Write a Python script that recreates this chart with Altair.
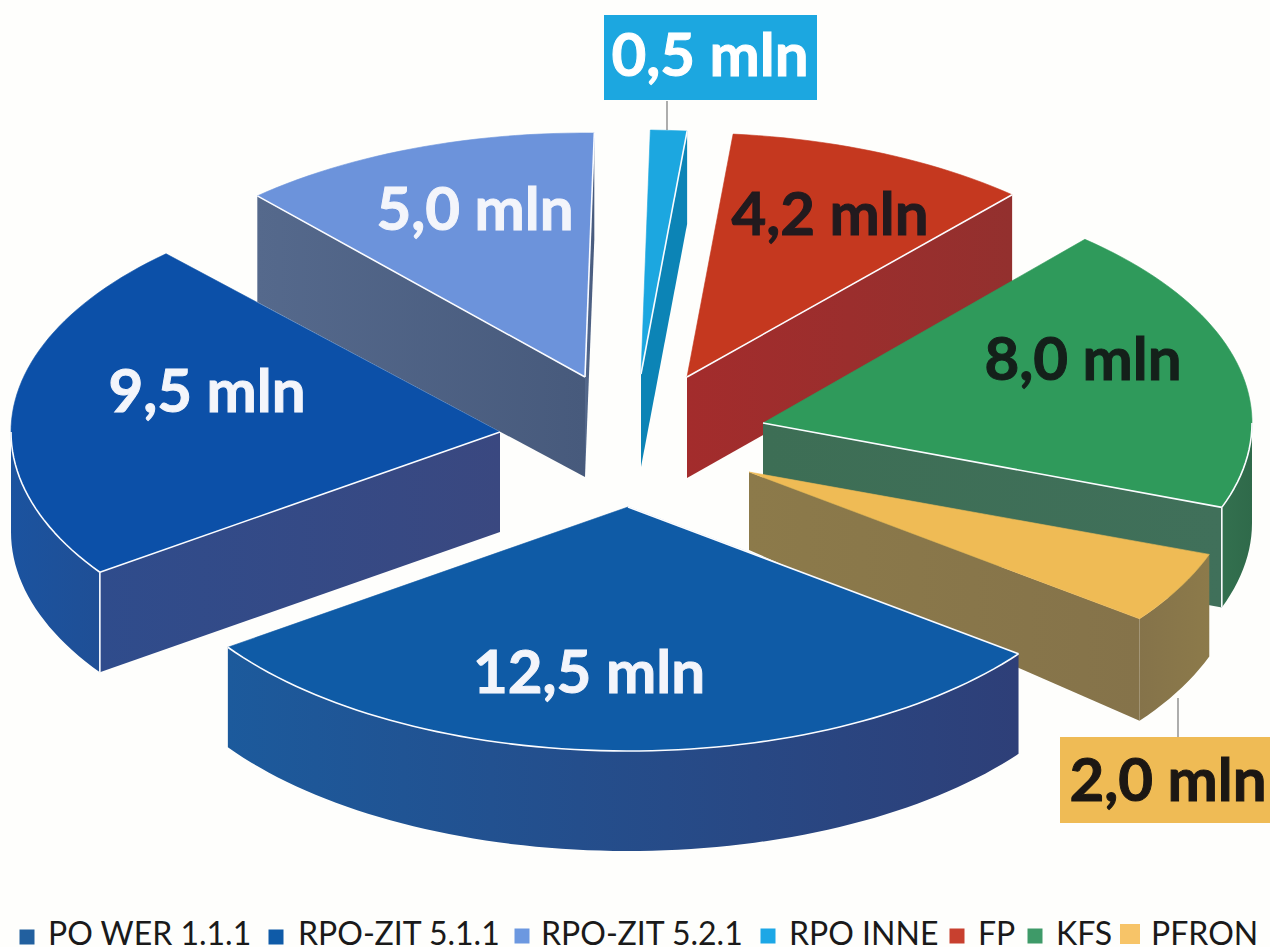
import math

import altair as alt
import pandas as pd

# Funding sources and their amounts in million
sources = ["PO WER 1.1.1", "RPO-ZIT 5.1.1", "RPO-ZIT 5.2.1", "RPO INNE", "FP", "KFS", "PFRON"]
amounts = [12.5, 9.5, 5.0, 0.5, 4.2, 8.0, 2.0]
amount_labels = ["12,5 mln", "9,5 mln", "5,0 mln", "0,5 mln", "4,2 mln", "8,0 mln", "2,0 mln"]

top_colors = ["#0F5BA6", "#0C50A8", "#6C93DB", "#1CA7E0", "#C5381F", "#2F9A5B", "#EFBB55"]
wall_start = ["#24528F", "#2F4C8C", "#55698C", "#0C84B6", "#A32C2C", "#3D6E55", "#8C7A4A"]
wall_end = ["#24528F", "#3A4880", "#475A7C", "#0C84B6", "#93302E", "#40705A", "#85734A"]
arc_start = ["#1C5A9C", "#1B539F", "#4E6488", "#0C84B6", "#A32C2C", "#33704F", "#85734A"]
arc_end = ["#2E3F78", "#1F4F96", "#4E6488", "#0C84B6", "#A32C2C", "#2F6A4A", "#8C7A4A"]
text_colors = ["#F3F5FB", "#F3F5FB", "#F3F5FB", "#FFFFFF", "#221A1E", "#14201A", "#1C1713"]
legend_colors = ["#22609F", "#0F5BA8", "#6C98E0", "#1CA7E6", "#C8402F", "#3E9A68", "#F7C468"]

# Layout of the exploded pie on a 1270x947 canvas
RX, RY = 489, 244
START_ANGLE = 127
tips = [(628, 507), (500, 432), (585, 377), (641, 374), (687, 377), (763, 423), (749, 472)]
angle_nudge = [0, 0, 1, 1, 1, 0.5, 0]
depth_tip = [100, 100, 100, 93, 101, 100, 78]
depth_rim = [100, 100, 106, 93, 100, 100, 102]
paint_order = [2, 3, 4, 1, 5, 6, 0]
label_pos = [(589, 675), (207, 394), (475, 212), (710, 58), (830, 217), (1083, 362), (1168, 783)]
legend_box_x = [27, 276, 522, 768, 957, 1035, 1130]
legend_box_y = [937, 937, 936, 936, 936, 936, 934]
legend_box_size = [225, 225, 225, 225, 225, 225, 400]
legend_text_x = [48, 298, 541, 789, 978, 1056, 1151]

x_scale = alt.Scale(domain=[0, 1270], range=[0, 1270], nice=False, zero=False)
y_scale = alt.Scale(domain=[0, 947], range=[0, 947], nice=False, zero=False)
X = alt.X("x:Q", scale=x_scale, axis=None)
Y = alt.Y("y:Q", scale=y_scale, axis=None)


def path(points):
    frame = pd.DataFrame(points, columns=["x", "y"])
    frame["i"] = range(len(frame))
    return frame


def shade(left, right):
    return alt.LinearGradient(
        gradient="linear", x1=0, x2=1, y1=0, y2=0,
        stops=[alt.GradientStop(color=left, offset=0), alt.GradientStop(color=right, offset=1)],
    )


def polygon(points, fill, stroke=None):
    closed = list(points) + [points[0]]
    return alt.Chart(path(closed)).mark_line(
        fill=fill, stroke=stroke or "transparent", strokeWidth=0.6, strokeJoin="round"
    ).encode(x=X, y=Y, order="i:Q")


def edge(points):
    return alt.Chart(path(points)).mark_line(
        stroke="#FBFCFF", strokeWidth=1.6, strokeJoin="round"
    ).encode(x=X, y=Y, order="i:Q")


def rim_point(tip, angle):
    a = math.radians(angle)
    return (tip[0] + RX * math.sin(a), tip[1] - RY * math.cos(a))


def arc_points(tip, a0, a1):
    steps = max(2, int(abs(a1 - a0) / 1.5))
    return [rim_point(tip, a0 + (a1 - a0) * k / steps) for k in range(steps + 1)]


total = sum(amounts)
spans = []
angle = START_ANGLE
for amount, nudge in zip(amounts, angle_nudge):
    sweep = amount / total * 360
    start = (angle + nudge) % 360
    spans.append((start, start + sweep))
    angle += sweep

layers = []
for idx in paint_order:
    tip = tips[idx]
    a0, a1 = spans[idx]
    rim = arc_points(tip, a0, a1)
    down_tip = (tip[0], tip[1] + depth_tip[idx])
    p0, p1 = rim[0], rim[-1]
    white_edges = []

    # Walls are drawn only where they face the viewer
    if p0[0] < tip[0]:
        layers.append(polygon(
            [tip, p0, (p0[0], p0[1] + depth_rim[idx]), down_tip],
            shade(wall_start[idx], wall_end[idx])))
        white_edges.append([tip, p0])
    if p1[0] > tip[0]:
        layers.append(polygon(
            [tip, p1, (p1[0], p1[1] + depth_rim[idx]), down_tip],
            shade(wall_start[idx], wall_end[idx])))
        white_edges.append([tip, p1])

    # The curved outer wall shows on the front half of the ellipse
    lo, hi = max(a0, 90), min(a1, 270)
    if lo < hi:
        front = arc_points(tip, lo, hi)
        lowered = [(px, py + depth_rim[idx]) for px, py in reversed(front)]
        layers.append(polygon(front + lowered, shade(arc_start[idx], arc_end[idx])))
        white_edges.append(front)
        if a0 > 90 and p0[0] < tip[0]:
            white_edges.append([p0, (p0[0], p0[1] + depth_rim[idx])])
        if a1 < 270 and p1[0] > tip[0]:
            white_edges.append([p1, (p1[0], p1[1] + depth_rim[idx])])

    layers.append(polygon([tip] + rim, top_colors[idx], top_colors[idx]))
    if idx == 0:
        white_edges.append([tip, p0])
    if idx != 6:
        layers += [edge(e) for e in white_edges]

# Callout leaders and boxes for the two smallest slices
leaders = pd.DataFrame({"x": [667, 1178], "y": [101, 698], "y2": [130, 737]})
layers.append(alt.Chart(leaders).mark_rule(color="#777777", strokeWidth=1.2).encode(
    x=X, y=Y, y2="y2:Q"))

boxes = pd.DataFrame({
    "x": [604, 1060], "x2": [817, 1270], "y": [15, 737], "y2": [100, 823],
    "c": ["#1CA7E0", "#EFBB55"],
})
layers.append(alt.Chart(boxes).mark_rect().encode(
    x=X, x2="x2:Q", y=Y, y2="y2:Q", color=alt.Color("c:N", scale=None)))

labels = pd.DataFrame({
    "x": [p[0] for p in label_pos], "y": [p[1] for p in label_pos],
    "t": amount_labels, "c": text_colors,
})
layers.append(alt.Chart(labels).mark_text(
    font="Lato", fontWeight="bold", fontSize=60, baseline="middle", align="center", strokeWidth=1
).encode(
    x=X, y=Y, text="t:N",
    color=alt.Color("c:N", scale=None),
    stroke=alt.Stroke("c:N", scale=None),
))

# Legend row along the bottom edge
legend_marks = pd.DataFrame({
    "x": legend_box_x, "y": legend_box_y, "s": legend_box_size, "c": legend_colors,
})
layers.append(alt.Chart(legend_marks).mark_point(
    shape="square", filled=True, opacity=1
).encode(
    x=X, y=Y,
    size=alt.Size("s:Q", scale=None),
    color=alt.Color("c:N", scale=None),
))

legend_text = pd.DataFrame({"x": legend_text_x, "y": [945] * 7, "t": sources})
layers.append(alt.Chart(legend_text).mark_text(
    font="Lato", fontSize=32, align="left", baseline="alphabetic", color="#1A1A1A"
).encode(x=X, y=Y, text="t:N"))

chart = alt.layer(*layers).properties(
    width=1270, height=947, padding=0, autosize=alt.AutoSizeParams(type="none"),
    background="#FEFEFC",
).configure_view(stroke=None)

chart.save("out.html", embed_options={"renderer": "svg", "actions": False})
